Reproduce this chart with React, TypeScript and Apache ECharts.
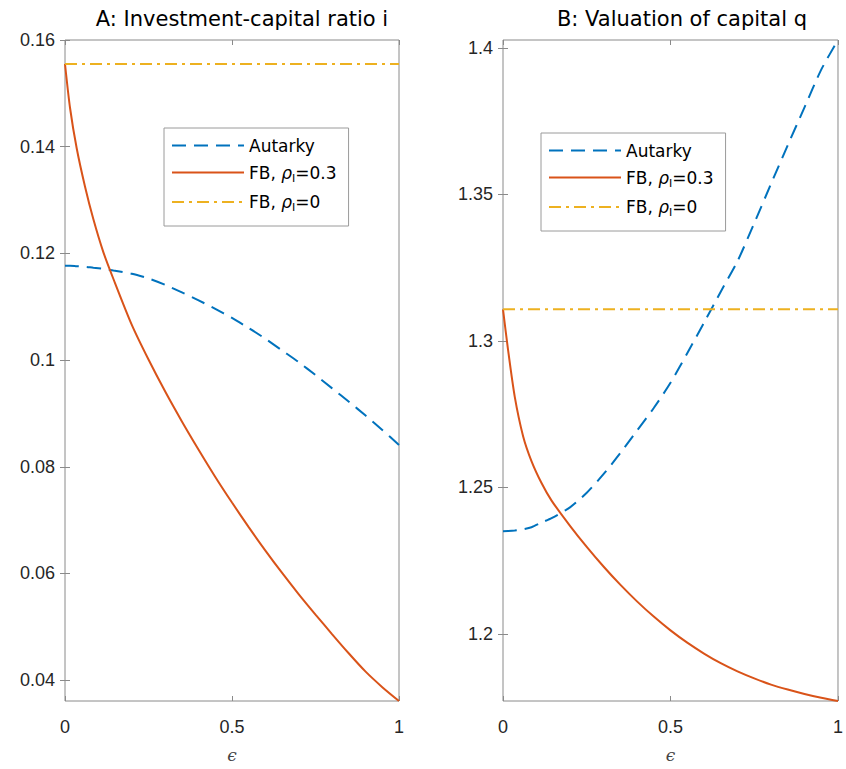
import React, { useEffect, useRef } from "react";
import * as echarts from "echarts";

// epsilon grid
const eps = [0, 0.015, 0.035, 0.06, 0.085, 0.115, 0.145, 0.2, 0.25, 0.3, 0.35, 0.4, 0.45, 0.5, 0.55, 0.6, 0.65, 0.7, 0.75, 0.8, 0.85, 0.9, 0.95, 1];

// Panel A: investment-capital ratio i
const iAutarky = [0.1177, 0.1177, 0.1176, 0.1175, 0.1173, 0.1171, 0.1168, 0.1162, 0.1153, 0.1141, 0.1127, 0.1112, 0.1096, 0.1079, 0.106, 0.104, 0.1018, 0.0996, 0.0972, 0.0947, 0.0922, 0.0896, 0.0869, 0.0841];
const iFB03 = [0.1555, 0.1473, 0.1397, 0.1325, 0.1264, 0.1202, 0.1152, 0.1066, 0.1001, 0.0941, 0.0885, 0.0832, 0.0781, 0.0733, 0.0687, 0.0643, 0.0601, 0.0561, 0.0523, 0.0486, 0.045, 0.0416, 0.0387, 0.0361];
const epsFlat = [0, 1];
const iFB0 = [0.1555, 0.1555];

// Panel B: valuation of capital q
const qAutarky = [1.235, 1.2351, 1.2353, 1.2357, 1.2364, 1.238, 1.2395, 1.2432, 1.2482, 1.2545, 1.2617, 1.2694, 1.2771, 1.2857, 1.2958, 1.3062, 1.3168, 1.3272, 1.3402, 1.3536, 1.3668, 1.3797, 1.3926, 1.4027];
const qFB03 = [1.3108, 1.297, 1.281, 1.2675, 1.259, 1.2515, 1.2455, 1.2369, 1.2297, 1.223, 1.2168, 1.2111, 1.2059, 1.2012, 1.197, 1.1933, 1.19, 1.1872, 1.1848, 1.1827, 1.181, 1.1795, 1.1782, 1.1771];
const qFB0 = [1.3108, 1.3108];

const iTicks = [0.04, 0.06, 0.08, 0.1, 0.12, 0.14, 0.16];
const qTicks = [1.2, 1.25, 1.3, 1.35, 1.4];
const epsTicks = [0, 0.5, 1];

const names = ["Autarky", "FB, ρI=0.3", "FB, ρI=0"];
const titles = ["A: Investment-capital ratio i", "B: Valuation of capital q"];

const BLUE = "#0072BD";
const RED = "#D95319";
const YEL = "#EDB120";
const AXC = "#8a8a8a";
const TXT = "#262626";
const TICKFONT = "'Liberation Sans', Arial, sans-serif";
const LEGFONT = "'DejaVu Sans', sans-serif";

const pairs = (xs: number[], ys: number[]) => xs.map((x, k) => [x, ys[k]]);
const fmt = (v: number) => String(+v.toFixed(3));

export default function App() {
  const ref = useRef<HTMLDivElement>(null);
  useEffect(() => {
    document.body.style.margin = "0";
    const chart = echarts.init(ref.current!, null, { renderer: "svg" });

    const grids = [
      { left: 65, top: 40, width: 334, height: 661 },
      { left: 503, top: 40, width: 335, height: 661 },
    ];
    const yRanges = [
      { min: iFB03[iFB03.length - 1], max: 0.16, ticks: iTicks },
      { min: qFB03[qFB03.length - 1], max: qAutarky[qAutarky.length - 1], ticks: qTicks },
    ];

    const xAxis: any[] = [];
    const yAxis: any[] = [];
    grids.forEach((g, gi) => {
      ["bottom", "top"].forEach((pos, k) => {
        xAxis.push({
          type: "value",
          gridIndex: gi,
          position: pos,
          min: 0,
          max: 1,
          axisLine: { show: false },
          splitLine: { show: false },
          axisTick: { show: true, inside: true, length: 5, customValues: epsTicks, lineStyle: { color: AXC } },
          axisLabel: {
            show: k === 0,
            customValues: epsTicks,
            margin: 17,
            color: TXT,
            fontSize: 18,
            fontFamily: TICKFONT,
            formatter: (v: number) => fmt(v),
          },
          name: k === 0 ? "ϵ" : "",
          nameLocation: "middle",
          nameGap: 45,
          nameTextStyle: { color: "#444", fontSize: 17, fontFamily: "'DejaVu Serif', serif", fontStyle: "italic" },
        });
      });
      ["left", "right"].forEach((pos, k) => {
        const r = yRanges[gi];
        yAxis.push({
          type: "value",
          gridIndex: gi,
          position: pos,
          min: r.min,
          max: r.max,
          axisLine: { show: false },
          splitLine: { show: false },
          axisTick: { show: true, inside: true, length: 5, customValues: r.ticks, lineStyle: { color: AXC } },
          axisLabel: {
            show: k === 0,
            customValues: r.ticks,
            margin: 10,
            color: TXT,
            fontSize: 18,
            fontFamily: TICKFONT,
            formatter: (v: number) => fmt(v),
          },
        });
      });
    });

    const mk = (name: string, gi: number, xs: number[], ys: number[], color: string, type: any, z: number, smooth: any) => ({
      type: "line",
      name,
      xAxisIndex: gi * 2,
      yAxisIndex: gi * 2,
      data: pairs(xs, ys),
      symbol: "none",
      smooth,
      z,
      lineStyle: { color, width: 2, type },
      itemStyle: { color },
    });

    const series = [
      mk(names[0], 0, eps, iAutarky, BLUE, [14, 8], 2, 0.25),
      mk(names[1], 0, eps, iFB03, RED, "solid", 3, 0.25),
      mk(names[2], 0, epsFlat, iFB0, YEL, [12, 5, 3, 5], 4, false),
      mk(names[0], 1, eps, qAutarky, BLUE, [14, 8], 2, 0.25),
      mk(names[1], 1, eps, qFB03, RED, "solid", 3, 0.25),
      mk(names[2], 1, epsFlat, qFB0, YEL, [12, 5, 3, 5], 4, false),
    ];

    const rich = {
      n: { fontFamily: LEGFONT, fontSize: 17, lineHeight: 22, color: "#000" },
      g: { fontFamily: LEGFONT, fontSize: 17, lineHeight: 22, color: "#000", fontStyle: "italic" },
      s: { fontFamily: LEGFONT, fontSize: 11, lineHeight: 9, color: "#000", verticalAlign: "bottom" },
    };
    const legendFmt = (name: string) => {
      if (name === names[0]) return "{n|Autarky}";
      if (name === names[1]) return "{n|FB, }{g|ρ}{s|I}{n|=0.3}";
      return "{n|FB, }{g|ρ}{s|I}{n|=0}";
    };
    const mkLegend = (left: number, top: number) => ({
      data: names,
      orient: "vertical",
      left,
      top,
      padding: [9, 12, 13, 7],
      itemGap: 10,
      itemWidth: 72,
      itemHeight: 14,
      selectedMode: false,
      backgroundColor: "#fff",
      borderColor: "#9a9a9a",
      borderWidth: 1,
      itemStyle: { opacity: 0 },
      formatter: legendFmt,
      textStyle: { rich, fontFamily: LEGFONT, fontSize: 17, color: "#000" },
    });

    chart.setOption({
      animation: false,
      backgroundColor: "#fff",
      title: [
        { text: titles[0], left: 242, top: 8, textAlign: "center", padding: 0, textStyle: { fontFamily: LEGFONT, fontSize: 21, fontWeight: "normal", color: "#000" } },
        { text: titles[1], left: 682, top: 8, textAlign: "center", padding: 0, textStyle: { fontFamily: LEGFONT, fontSize: 21, fontWeight: "normal", color: "#000" } },
      ],
      grid: grids.map((g) => ({ ...g, show: true, borderColor: AXC, borderWidth: 1, backgroundColor: "transparent" })),
      xAxis,
      yAxis,
      legend: [mkLegend(164, 128), mkLegend(541, 133)],
      series,
    });
    return () => chart.dispose();
  }, []);
  return <div ref={ref} style={{ width: 846, height: 769 }} />;
}
